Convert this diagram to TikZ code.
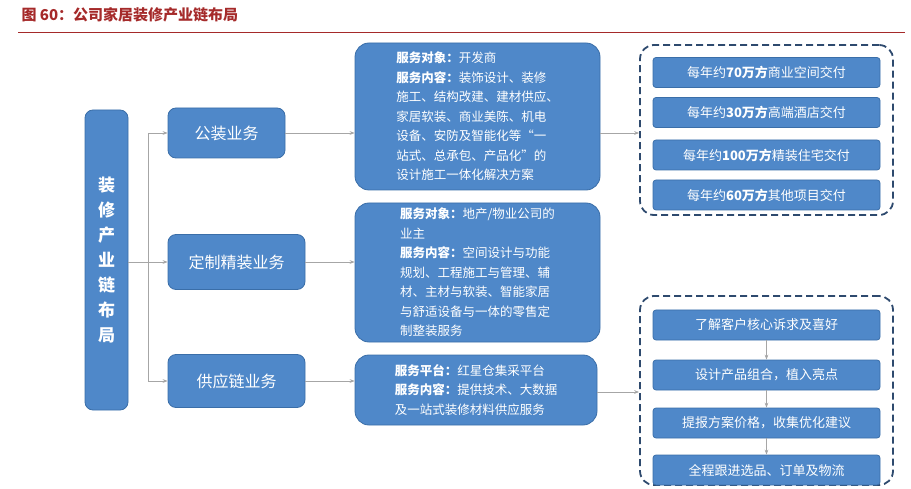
\documentclass[tikz,border=0pt]{standalone}
\usepackage{fontspec}
\setmainfont{Noto Sans CJK SC}
\usetikzlibrary{arrows.meta}
\definecolor{bfill}{HTML}{4F88C9}
\definecolor{bdraw}{HTML}{3A6EA8}
\definecolor{tred}{HTML}{A52A2A}
\definecolor{frame}{HTML}{2E4A6E}
\tikzset{
 bx/.style={draw=bdraw,fill=bfill,rounded corners=8pt,text=white,line width=0.8pt},
 ds/.style={bx,rounded corners=14pt,font=\fontsize{12.5}{19.5}\selectfont,align=left},
 ln/.style={draw=gray!70,line width=0.7pt},
 ar/.style={ln,-{Stealth[length=5pt]}},
 fr/.style={draw=frame,dashed,dash pattern=on 7pt off 4pt,line width=1.8pt,rounded corners=14pt},
 ib/.style={bx,rounded corners=3pt,minimum width=227pt,minimum height=30pt,font=\fontsize{13}{15}\selectfont},
}
\begin{document}
\begin{tikzpicture}[x=1pt,y=-1pt]
\useasboundingbox (0,0) rectangle (911,489);
\node[anchor=west,text=tred,font=\bfseries\fontsize{15}{17}\selectfont] (title) at (18,15) {图 60：公司家居装修产业链布局};
\draw[tred,line width=1pt] (18,33) -- (905,33);
% left
\node[bx,minimum width=43pt,minimum height=300pt,font=\bfseries\fontsize{17}{25}\selectfont,align=center] (L) at (106.5,260) {装\\修\\产\\业\\链\\布\\局};
\node[bx,minimum width=117pt,minimum height=50pt,font=\fontsize{16}{18}\selectfont] (A) at (226.5,133) {公装业务};
\node[bx,minimum width=137pt,minimum height=55pt,font=\fontsize{16}{18}\selectfont] (B) at (236.5,262) {定制精装业务};
\node[bx,minimum width=137pt,minimum height=53pt,font=\fontsize{16}{18}\selectfont] (C) at (236.5,381) {供应链业务};
\coordinate (j) at (148,262);
\draw[ln] (L.east|-j) -- (j);
\draw[ln] (148,133) -- (148,381);
\draw[ar] (148,133) -- (A.west);
\draw[ar] (j) -- (B.west);
\draw[ar] (148,381) -- (C.west);
% descriptions
\node[ds,minimum width=245pt,minimum height=147pt] (D1) at (477.5,116.5) {\textbf{服务对象：}开发商\\\textbf{服务内容：}装饰设计、装修\\施工、结构改建、建材供应、\\家居软装、商业美陈、机电\\设备、安防及智能化等“一\\站式、总承包、产品化”的\\设计施工一体化解决方案};
\node[ds,minimum width=245pt,minimum height=139pt] (D2) at (477.5,272.5) {\textbf{服务对象：}地产/物业公司的\\业主\\\textbf{服务内容：}空间设计与功能\\规划、工程施工与管理、辅\\材、主材与软装、智能家居\\与舒适设备与一体的零售定\\制整装服务};
\node[ds,minimum width=242pt,minimum height=70pt] (D3) at (476,390) {\textbf{服务平台：}红星仓集采平台\\\textbf{服务内容：}提供技术、大数据\\及一站式装修材料供应服务};
\draw[ar] (A.east) -- (D1.west|-A.east);
\draw[ar] (B.east) -- (D2.west|-B.east);
\draw[ar] (C.east) -- (D3.west|-C.east);
% frames
\node[fr,minimum width=253pt,minimum height=170pt] (F1) at (766.5,130) {};
\node[fr,minimum width=253pt,minimum height=189pt] (F2) at (766.5,390.5) {};
\draw[ar] (D1.east|-A.east) -- (F1.west|-A.east);
\coordinate (d3e) at (597,392);
\draw[ar] (d3e) -- (F2.west|-d3e);
\node[ib] (p1) at (766.5,72.5) {每年约\textbf{70万方}商业空间交付};
\node[ib] (p2) at (766.5,112.5) {每年约\textbf{30万方}高端酒店交付};
\node[ib] (p3) at (766.5,155) {每年约\textbf{100万方}精装住宅交付};
\node[ib] (p4) at (766.5,195) {每年约\textbf{60万方}其他项目交付};
\node[ib] (q1) at (766.5,325) {了解客户核心诉求及喜好};
\node[ib] (q2) at (766.5,375) {设计产品组合，植入亮点};
\node[ib] (q3) at (766.5,423) {提报方案价格，收集优化建议};
\node[ib] (q4) at (766.5,470) {全程跟进选品、订单及物流};
\draw[ar] (q1) -- (q2);
\draw[ar] (q2) -- (q3);
\draw[ar] (q3) -- (q4);
\end{tikzpicture}
\end{document}
